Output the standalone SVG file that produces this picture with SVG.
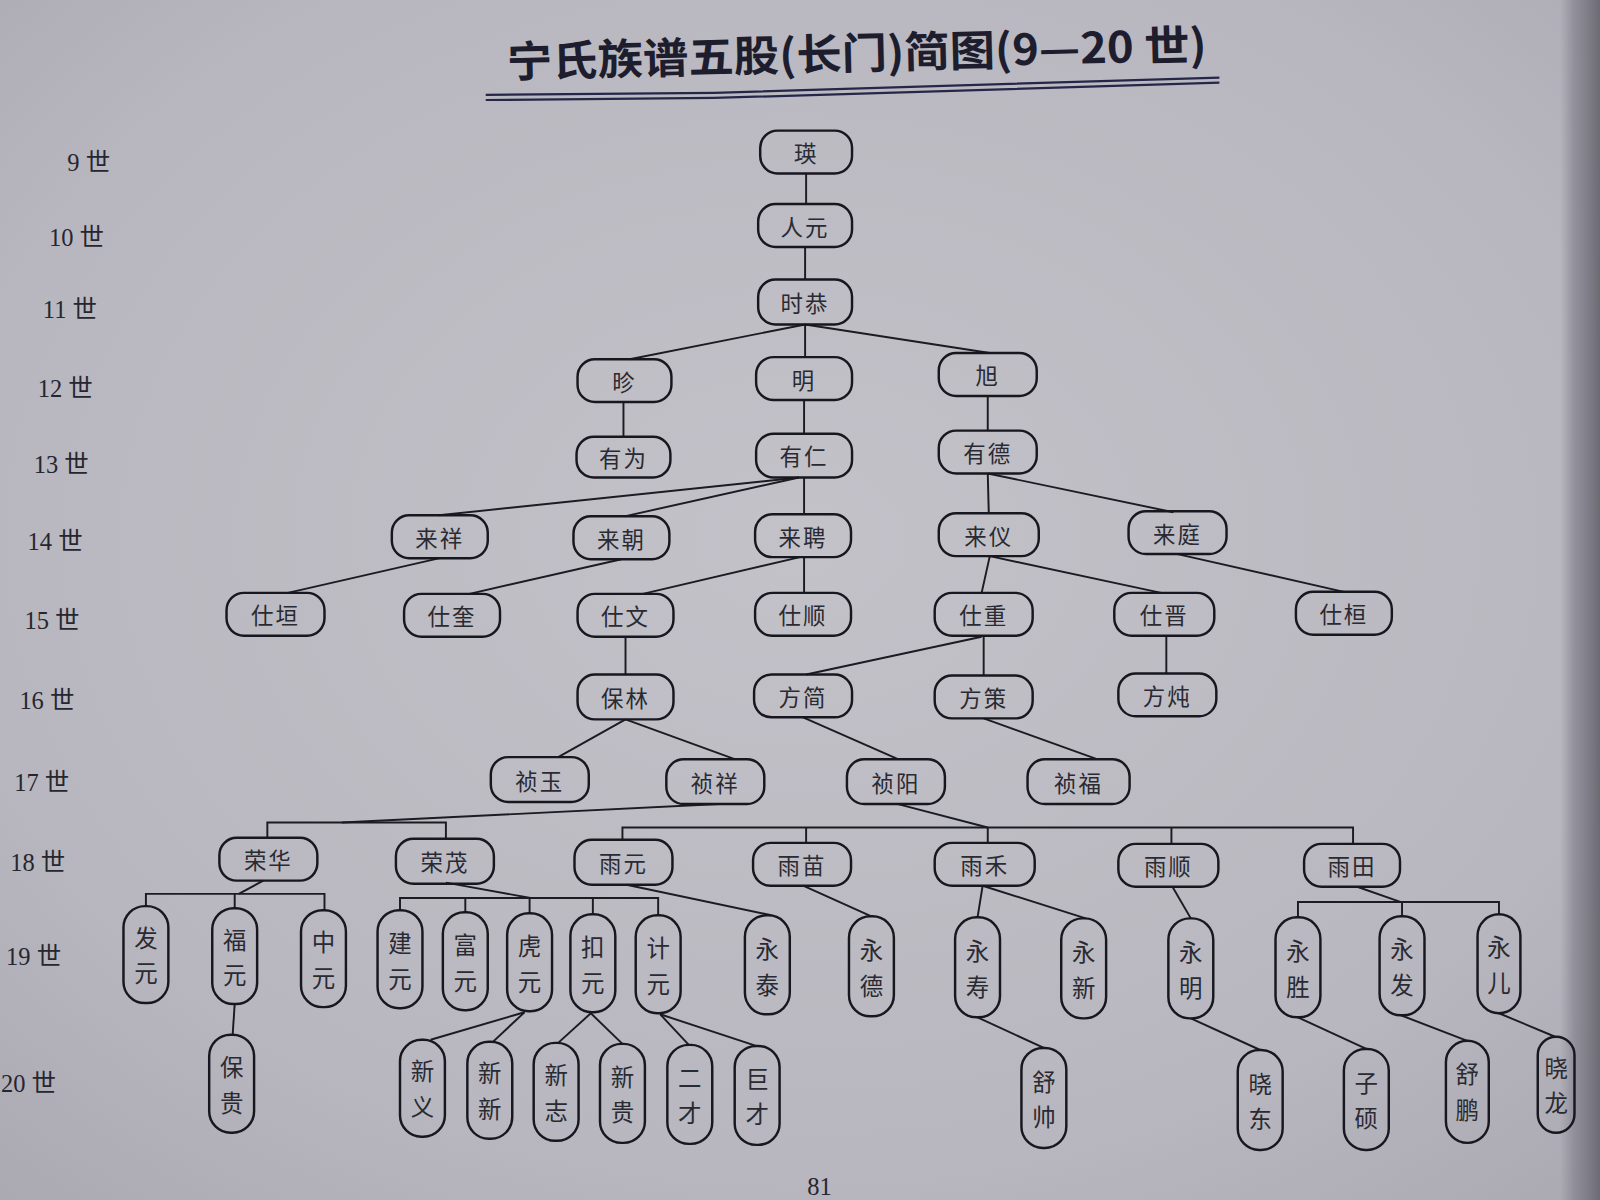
<svg xmlns="http://www.w3.org/2000/svg" width="1600" height="1200" viewBox="0 0 1600 1200">
<defs>
<radialGradient id="paper" cx="0.5" cy="0.45" r="0.75">
<stop offset="0" stop-color="#c3c2c9"/>
<stop offset="0.7" stop-color="#b8b7bf"/>
<stop offset="1" stop-color="#aaa9b2"/>
</radialGradient>
<linearGradient id="edge" x1="0" y1="0" x2="1" y2="0">
<stop offset="0" stop-color="#8d8c96" stop-opacity="0"/>
<stop offset="0.35" stop-color="#8a8993" stop-opacity="0.8"/>
<stop offset="1" stop-color="#6c6b74"/>
</linearGradient>
<style>
.n{fill:none;stroke:#17171f;stroke-width:2.4}
.c line,.c path{stroke:#1b1b24;stroke-width:1.9;fill:none}
.t{font-family:"Noto Sans CJK SC","Noto Sans CJK JP",sans-serif;font-size:22px;fill:#2a2a32;text-anchor:middle;dominant-baseline:central;letter-spacing:2px}
.v{font-family:"Noto Sans CJK SC","Noto Sans CJK JP",sans-serif;font-size:23px;fill:#2a2a32;text-anchor:middle;dominant-baseline:central}
.g{font-family:"Liberation Serif","Noto Sans CJK SC",serif;font-size:24px;fill:#26262e}
</style>
</defs>
<rect width="1600" height="1200" fill="url(#paper)"/>
<rect x="1560" y="0" width="40" height="1200" fill="url(#edge)"/>
<g transform="scale(1.020408)">
<!-- title -->
<g id="title">
<text x="497" y="76" transform="rotate(-1.4 497 76)" font-family="'Noto Sans CJK SC','Noto Sans CJK JP',serif" font-size="42" font-weight="700" fill="#1d1d2e" textLength="686" lengthAdjust="spacingAndGlyphs">宁氏族谱五股(长门)简图(9—20 世)</text>
<path d="M476 93 L700 91 Q900 86 1195 76" fill="none" stroke="#262648" stroke-width="2.2"/>
<path d="M476 98 L700 96 Q900 91 1195 81" fill="none" stroke="#262648" stroke-width="2.2"/>
</g>
<!-- generation labels -->
<g id="generations">
<text class="g" x="66" y="168">9 世</text>
<text class="g" x="48" y="241">10 世</text>
<text class="g" x="42" y="312">11 世</text>
<text class="g" x="37" y="389">12 世</text>
<text class="g" x="33" y="464">13 世</text>
<text class="g" x="27" y="539">14 世</text>
<text class="g" x="24" y="616">15 世</text>
<text class="g" x="19" y="695">16 世</text>
<text class="g" x="14" y="775">17 世</text>
<text class="g" x="10" y="854">18 世</text>
<text class="g" x="6" y="946">19 世</text>
<text class="g" x="1" y="1070">20 世</text>
</g>
<!-- connectors -->
<g id="connectors" class="c">
<line x1="790" y1="170" x2="790" y2="200"/>
<line x1="789" y1="242" x2="789" y2="274"/>
<line x1="789" y1="318" x2="617" y2="352"/>
<line x1="789" y1="318" x2="789" y2="350"/>
<line x1="789" y1="318" x2="970" y2="346"/>
<line x1="611" y1="394" x2="611" y2="428"/>
<line x1="788" y1="392" x2="788" y2="425"/>
<line x1="968" y1="388" x2="968" y2="422"/>
<line x1="783" y1="468" x2="430" y2="505"/>
<line x1="783" y1="468" x2="612" y2="506"/>
<line x1="788" y1="468" x2="788" y2="504"/>
<line x1="968" y1="464" x2="969" y2="503"/>
<line x1="968" y1="464" x2="1150" y2="502"/>
<line x1="431" y1="547" x2="282" y2="581"/>
<line x1="609" y1="548" x2="460" y2="582"/>
<line x1="784" y1="546" x2="630" y2="582"/>
<line x1="788" y1="546" x2="788" y2="581"/>
<line x1="970" y1="545" x2="962" y2="581"/>
<line x1="970" y1="545" x2="1138" y2="581"/>
<line x1="1154" y1="543" x2="1317" y2="580"/>
<line x1="613" y1="624" x2="613" y2="661"/>
<line x1="962" y1="624" x2="790" y2="661"/>
<line x1="964" y1="623" x2="964" y2="662"/>
<line x1="1143" y1="623" x2="1143" y2="660"/>
<line x1="613" y1="705" x2="547" y2="742"/>
<line x1="613" y1="705" x2="720" y2="744"/>
<line x1="787" y1="703" x2="880" y2="744"/>
<line x1="964" y1="704" x2="1075" y2="744"/>
<line x1="705" y1="788" x2="335" y2="806"/>
<path d="M262 821 V806 H437 V822"/>
<line x1="880" y1="788" x2="968" y2="811"/>
<path d="M610 823 V811 H1326 V827"/>
<line x1="790" y1="811" x2="790" y2="826"/>
<line x1="968" y1="811" x2="968" y2="826"/>
<line x1="1148" y1="811" x2="1148" y2="827"/>
<line x1="258" y1="863" x2="234" y2="876"/>
<path d="M143 888 V876 H318 V892"/>
<line x1="230" y1="876" x2="230" y2="890"/>
<line x1="437" y1="865" x2="520" y2="880"/>
<path d="M392 892 V880 H645 V897"/>
<line x1="456" y1="880" x2="456" y2="894"/>
<line x1="519" y1="880" x2="519" y2="895"/>
<line x1="581" y1="880" x2="581" y2="896"/>
<line x1="614" y1="867" x2="756" y2="897"/>
<line x1="787" y1="868" x2="854" y2="898"/>
<line x1="963" y1="868" x2="958" y2="899"/>
<line x1="963" y1="868" x2="1064" y2="900"/>
<line x1="1149" y1="869" x2="1167" y2="900"/>
<line x1="1330" y1="869" x2="1373" y2="884"/>
<path d="M1272 899 V884 H1469 V896"/>
<line x1="1374" y1="884" x2="1374" y2="898"/>
<line x1="230" y1="984" x2="228" y2="1014"/>
<line x1="514" y1="992" x2="422" y2="1019"/>
<line x1="514" y1="992" x2="483" y2="1021"/>
<line x1="579" y1="993" x2="547" y2="1022"/>
<line x1="579" y1="993" x2="610" y2="1023"/>
<line x1="647" y1="994" x2="675" y2="1024"/>
<line x1="647" y1="994" x2="741" y2="1025"/>
<line x1="958" y1="997" x2="1023" y2="1027"/>
<line x1="1167" y1="998" x2="1235" y2="1029"/>
<line x1="1272" y1="997" x2="1339" y2="1028"/>
<line x1="1373" y1="995" x2="1438" y2="1020"/>
<line x1="1469" y1="993" x2="1524" y2="1016"/>
</g>
<!-- horizontal nodes -->
<g id="n-ying"><rect class="n" x="745" y="128" width="90" height="42" rx="17"/><text class="t" x="790" y="149">瑛</text></g>
<g id="n-renyuan"><rect class="n" x="743" y="200" width="92" height="42" rx="17"/><text class="t" x="789" y="221">人元</text></g>
<g id="n-shigong"><rect class="n" x="743" y="274" width="92" height="44" rx="17"/><text class="t" x="789" y="296">时恭</text></g>
<g id="n-zhen"><rect class="n" x="566" y="352" width="92" height="42" rx="17"/><text class="t" x="612" y="373">昣</text></g>
<g id="n-ming"><rect class="n" x="741" y="350" width="94" height="42" rx="17"/><text class="t" x="788" y="371">明</text></g>
<g id="n-xu"><rect class="n" x="920" y="346" width="96" height="42" rx="17"/><text class="t" x="968" y="367">旭</text></g>
<g id="n-youwei"><rect class="n" x="565" y="428" width="92" height="40" rx="17"/><text class="t" x="611" y="448">有为</text></g>
<g id="n-youren"><rect class="n" x="741" y="425" width="94" height="43" rx="17"/><text class="t" x="788" y="446">有仁</text></g>
<g id="n-youde"><rect class="n" x="920" y="422" width="96" height="42" rx="17"/><text class="t" x="968" y="443">有德</text></g>
<g id="n-laixiang"><rect class="n" x="384" y="505" width="94" height="42" rx="17"/><text class="t" x="431" y="526">来祥</text></g>
<g id="n-laichao"><rect class="n" x="562" y="506" width="94" height="42" rx="17"/><text class="t" x="609" y="527">来朝</text></g>
<g id="n-laipin"><rect class="n" x="740" y="504" width="94" height="42" rx="17"/><text class="t" x="787" y="525">来聘</text></g>
<g id="n-laiyi"><rect class="n" x="920" y="503" width="98" height="42" rx="17"/><text class="t" x="969" y="524">来仪</text></g>
<g id="n-laiting"><rect class="n" x="1106" y="501" width="96" height="42" rx="17"/><text class="t" x="1154" y="522">来庭</text></g>
<g id="n-shiyuan"><rect class="n" x="222" y="581" width="96" height="42" rx="17"/><text class="t" x="270" y="602">仕垣</text></g>
<g id="n-shikui"><rect class="n" x="396" y="582" width="94" height="42" rx="17"/><text class="t" x="443" y="603">仕奎</text></g>
<g id="n-shiwen"><rect class="n" x="566" y="582" width="94" height="42" rx="17"/><text class="t" x="613" y="603">仕文</text></g>
<g id="n-shishun"><rect class="n" x="740" y="581" width="94" height="42" rx="17"/><text class="t" x="787" y="602">仕顺</text></g>
<g id="n-shizhong"><rect class="n" x="916" y="581" width="96" height="42" rx="17"/><text class="t" x="964" y="602">仕重</text></g>
<g id="n-shijin"><rect class="n" x="1092" y="581" width="98" height="42" rx="17"/><text class="t" x="1141" y="602">仕晋</text></g>
<g id="n-shihuan"><rect class="n" x="1270" y="580" width="94" height="42" rx="17"/><text class="t" x="1317" y="601">仕桓</text></g>
<g id="n-baolin"><rect class="n" x="566" y="661" width="94" height="44" rx="17"/><text class="t" x="613" y="683">保林</text></g>
<g id="n-fangjian"><rect class="n" x="739" y="661" width="96" height="42" rx="17"/><text class="t" x="787" y="682">方简</text></g>
<g id="n-fangce"><rect class="n" x="916" y="662" width="96" height="42" rx="17"/><text class="t" x="964" y="683">方策</text></g>
<g id="n-fangdun"><rect class="n" x="1096" y="660" width="96" height="42" rx="17"/><text class="t" x="1144" y="681">方炖</text></g>
<g id="n-zhenyu"><rect class="n" x="481" y="742" width="96" height="44" rx="17"/><text class="t" x="529" y="764">祯玉</text></g>
<g id="n-zhenxiang"><rect class="n" x="653" y="744" width="96" height="44" rx="17"/><text class="t" x="701" y="766">祯祥</text></g>
<g id="n-zhenyang"><rect class="n" x="830" y="744" width="96" height="44" rx="17"/><text class="t" x="878" y="766">祯阳</text></g>
<g id="n-zhenfu"><rect class="n" x="1007" y="744" width="100" height="44" rx="17"/><text class="t" x="1057" y="766">祯福</text></g>
<g id="n-ronghua"><rect class="n" x="215" y="821" width="96" height="42" rx="17"/><text class="t" x="263" y="842">荣华</text></g>
<g id="n-rongmao"><rect class="n" x="388" y="822" width="96" height="44" rx="17"/><text class="t" x="436" y="844">荣茂</text></g>
<g id="n-yuyuan"><rect class="n" x="563" y="823" width="96" height="44" rx="17"/><text class="t" x="611" y="845">雨元</text></g>
<g id="n-yumiao"><rect class="n" x="738" y="826" width="96" height="42" rx="17"/><text class="t" x="786" y="847">雨苗</text></g>
<g id="n-yuhe"><rect class="n" x="916" y="826" width="98" height="42" rx="17"/><text class="t" x="965" y="847">雨禾</text></g>
<g id="n-yushun"><rect class="n" x="1096" y="827" width="98" height="42" rx="17"/><text class="t" x="1145" y="848">雨顺</text></g>
<g id="n-yutian"><rect class="n" x="1278" y="827" width="94" height="42" rx="17"/><text class="t" x="1325" y="848">雨田</text></g>
<!-- vertical nodes: generation 19 -->
<g id="n-fayuan"><rect class="n" x="121" y="888" width="44" height="95" rx="21"/><text class="v" x="143" y="918">发</text><text class="v" x="143" y="953">元</text></g>
<g id="n-fuyuan"><rect class="n" x="208" y="890" width="44" height="94" rx="21"/><text class="v" x="230" y="920">福</text><text class="v" x="230" y="955">元</text></g>
<g id="n-zhongyuan"><rect class="n" x="295" y="892" width="44" height="95" rx="21"/><text class="v" x="317" y="922">中</text><text class="v" x="317" y="957">元</text></g>
<g id="n-jianyuan"><rect class="n" x="370" y="892" width="44" height="96" rx="21"/><text class="v" x="392" y="923">建</text><text class="v" x="392" y="958">元</text></g>
<g id="n-fuyuan2"><rect class="n" x="434" y="894" width="44" height="96" rx="21"/><text class="v" x="456" y="925">富</text><text class="v" x="456" y="960">元</text></g>
<g id="n-huyuan"><rect class="n" x="497" y="895" width="44" height="96" rx="21"/><text class="v" x="519" y="926">虎</text><text class="v" x="519" y="961">元</text></g>
<g id="n-kouyuan"><rect class="n" x="559" y="896" width="44" height="96" rx="21"/><text class="v" x="581" y="927">扣</text><text class="v" x="581" y="962">元</text></g>
<g id="n-jiyuan"><rect class="n" x="623" y="897" width="44" height="96" rx="21"/><text class="v" x="645" y="928">计</text><text class="v" x="645" y="963">元</text></g>
<g id="n-yongtai"><rect class="n" x="730" y="897" width="44" height="97" rx="21"/><text class="v" x="752" y="929">永</text><text class="v" x="752" y="964">泰</text></g>
<g id="n-yongde"><rect class="n" x="832" y="898" width="44" height="98" rx="21"/><text class="v" x="854" y="930">永</text><text class="v" x="854" y="965">德</text></g>
<g id="n-yongshou"><rect class="n" x="936" y="899" width="44" height="98" rx="21"/><text class="v" x="958" y="931">永</text><text class="v" x="958" y="966">寿</text></g>
<g id="n-yongxin"><rect class="n" x="1040" y="900" width="44" height="98" rx="21"/><text class="v" x="1062" y="932">永</text><text class="v" x="1062" y="967">新</text></g>
<g id="n-yongming"><rect class="n" x="1145" y="900" width="44" height="98" rx="21"/><text class="v" x="1167" y="932">永</text><text class="v" x="1167" y="967">明</text></g>
<g id="n-yongsheng"><rect class="n" x="1250" y="899" width="44" height="98" rx="21"/><text class="v" x="1272" y="931">永</text><text class="v" x="1272" y="966">胜</text></g>
<g id="n-yongfa"><rect class="n" x="1352" y="898" width="44" height="97" rx="21"/><text class="v" x="1374" y="929">永</text><text class="v" x="1374" y="964">发</text></g>
<g id="n-yonger"><rect class="n" x="1448" y="896" width="42" height="97" rx="21"/><text class="v" x="1469" y="927">永</text><text class="v" x="1469" y="962">儿</text></g>
<!-- vertical nodes: generation 20 -->
<g id="n-baogui"><rect class="n" x="205" y="1014" width="44" height="96" rx="21"/><text class="v" x="227" y="1045">保</text><text class="v" x="227" y="1080">贵</text></g>
<g id="n-xinyi"><rect class="n" x="392" y="1019" width="44" height="95" rx="21"/><text class="v" x="414" y="1049">新</text><text class="v" x="414" y="1084">义</text></g>
<g id="n-xinxin"><rect class="n" x="458" y="1021" width="44" height="95" rx="21"/><text class="v" x="480" y="1051">新</text><text class="v" x="480" y="1086">新</text></g>
<g id="n-xinzhi"><rect class="n" x="523" y="1022" width="44" height="96" rx="21"/><text class="v" x="545" y="1053">新</text><text class="v" x="545" y="1088">志</text></g>
<g id="n-xingui"><rect class="n" x="588" y="1023" width="44" height="97" rx="21"/><text class="v" x="610" y="1054">新</text><text class="v" x="610" y="1089">贵</text></g>
<g id="n-ercai"><rect class="n" x="654" y="1024" width="44" height="97" rx="21"/><text class="v" x="676" y="1055">二</text><text class="v" x="676" y="1090">才</text></g>
<g id="n-jucai"><rect class="n" x="720" y="1025" width="44" height="97" rx="21"/><text class="v" x="742" y="1056">巨</text><text class="v" x="742" y="1091">才</text></g>
<g id="n-shushuai"><rect class="n" x="1001" y="1027" width="44" height="98" rx="21"/><text class="v" x="1023" y="1059">舒</text><text class="v" x="1023" y="1094">帅</text></g>
<g id="n-xiaodong"><rect class="n" x="1213" y="1029" width="44" height="98" rx="21"/><text class="v" x="1235" y="1061">晓</text><text class="v" x="1235" y="1096">东</text></g>
<g id="n-zishuo"><rect class="n" x="1317" y="1028" width="44" height="99" rx="21"/><text class="v" x="1339" y="1060">子</text><text class="v" x="1339" y="1095">硕</text></g>
<g id="n-shupeng"><rect class="n" x="1417" y="1020" width="42" height="100" rx="21"/><text class="v" x="1438" y="1052">舒</text><text class="v" x="1438" y="1087">鹏</text></g>
<g id="n-xiaolong"><rect class="n" x="1507" y="1016" width="36" height="94" rx="18"/><text class="v" x="1525" y="1046" font-size="20">晓</text><text class="v" x="1525" y="1080" font-size="20">龙</text></g>
<text x="803" y="1171" font-family="'Liberation Serif',serif" font-size="24" fill="#26262e" text-anchor="middle">81</text>
</g>
</svg>
